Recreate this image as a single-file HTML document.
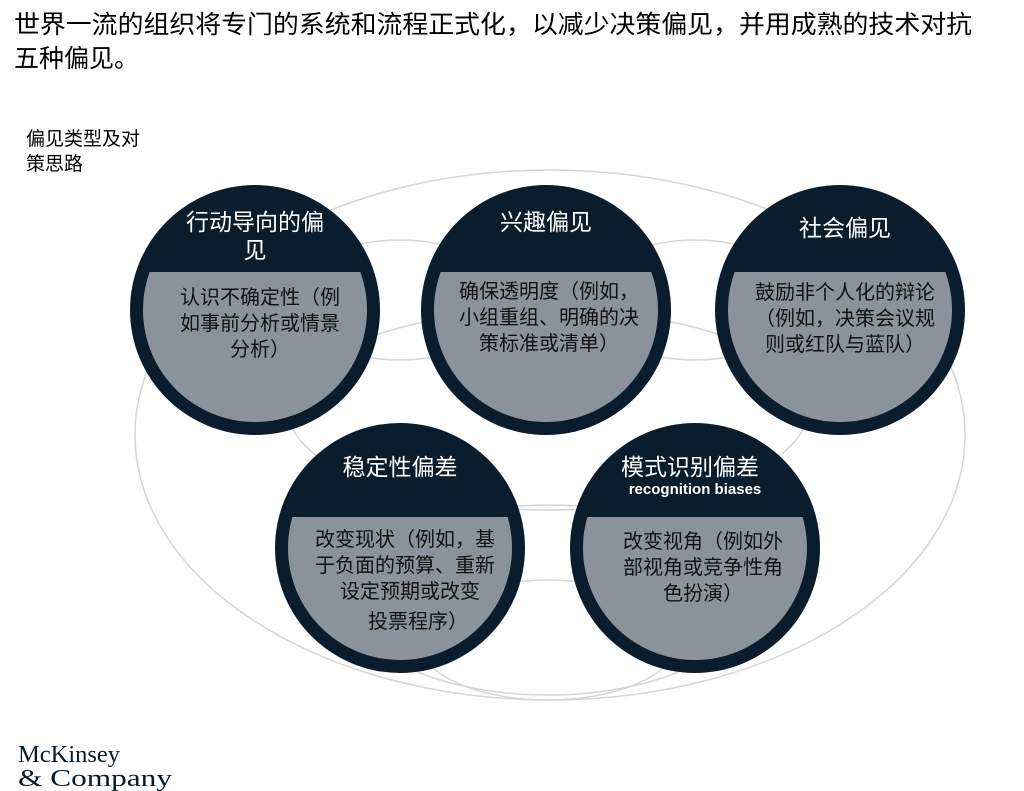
<!DOCTYPE html>
<html><head><meta charset="utf-8"><style>
body{margin:0;width:1024px;height:791px;background:#fff;overflow:hidden;font-family:"Liberation Sans","Noto Sans CJK SC",sans-serif;}
svg{position:absolute;left:0;top:0}
</style></head><body>
<svg width="1024" height="791" viewBox="0 0 1024 791" xmlns="http://www.w3.org/2000/svg" font-family="Liberation Sans, Noto Sans CJK SC, sans-serif">
<defs>
<clipPath id="c1"><rect x="0" y="272" width="1024" height="300"/></clipPath>
<clipPath id="c4"><rect x="0" y="517" width="1024" height="300"/></clipPath>
</defs>
<text x="14" y="33" font-size="25" fill="#000" textLength="958" lengthAdjust="spacingAndGlyphs">世界一流的组织将专门的系统和流程正式化，以减少决策偏见，并用成熟的技术对抗</text>
<text x="14" y="67" font-size="25" fill="#000">五种偏见。</text>
<text x="26" y="145" font-size="19" fill="#000">偏见类型及对</text>
<text x="26" y="170" font-size="19" fill="#000">策思路</text>
<g fill="none" stroke="#d4d6d8" stroke-width="1.5">
<ellipse cx="550" cy="435" rx="415" ry="265"/>
<ellipse cx="400" cy="300" rx="110" ry="60"/>
<ellipse cx="695" cy="300" rx="110" ry="60"/>
<ellipse cx="548" cy="410" rx="260" ry="100"/>
<ellipse cx="548" cy="600" rx="200" ry="95"/>
<ellipse cx="548" cy="640" rx="130" ry="60"/>
</g>
<g>
<circle cx="255" cy="310" r="125" fill="#0a1d2c"/>
<circle cx="255" cy="310" r="112" fill="#8a939b" clip-path="url(#c1)"/>
<circle cx="546" cy="310" r="125" fill="#0a1d2c"/>
<circle cx="546" cy="310" r="112" fill="#8a939b" clip-path="url(#c1)"/>
<circle cx="840" cy="310" r="125" fill="#0a1d2c"/>
<circle cx="840" cy="310" r="112" fill="#8a939b" clip-path="url(#c1)"/>
<circle cx="400" cy="548" r="125" fill="#0a1d2c"/>
<circle cx="400" cy="548" r="112" fill="#8a939b" clip-path="url(#c4)"/>
<circle cx="695" cy="548" r="125" fill="#0a1d2c"/>
<circle cx="695" cy="548" r="112" fill="#8a939b" clip-path="url(#c4)"/>
</g>
<g fill="#fff" font-size="23" text-anchor="middle">
<text x="255" y="230">行动导向的偏</text>
<text x="255" y="258">见</text>
<text x="546" y="230">兴趣偏见</text>
<text x="845" y="236">社会偏见</text>
<text x="400" y="475">稳定性偏差</text>
<text x="690" y="475">模式识别偏差</text>
<text x="695" y="494" font-size="15" font-weight="bold">recognition biases</text>
</g>
<g fill="#111" font-size="20" text-anchor="middle">
<text x="260" y="304">认识不确定性（例</text>
<text x="260" y="330">如事前分析或情景</text>
<text x="260" y="356">分析）</text>
<text x="549" y="298">确保透明度（例如，</text>
<text x="549" y="324">小组重组、明确的决</text>
<text x="549" y="350">策标准或清单）</text>
<text x="845" y="299">鼓励非个人化的辩论</text>
<text x="845" y="325">（例如，决策会议规</text>
<text x="845" y="351">则或红队与蓝队）</text>
<text x="405" y="546">改变现状（例如，基</text>
<text x="405" y="572">于负面的预算、重新</text>
<text x="410" y="598">设定预期或改变</text>
<text x="418" y="628">投票程序）</text>
<text x="703" y="548">改变视角（例如外</text>
<text x="703" y="574">部视角或竞争性角</text>
<text x="703" y="600">色扮演）</text>
</g>
<text x="18" y="762" font-size="24" font-family="Liberation Serif, serif" fill="#051c2c" textLength="102" lengthAdjust="spacingAndGlyphs">McKinsey</text>
<text x="18" y="786" font-size="24" font-family="Liberation Serif, serif" fill="#051c2c" textLength="154" lengthAdjust="spacingAndGlyphs">&amp; Company</text>
</svg>
</body></html>
